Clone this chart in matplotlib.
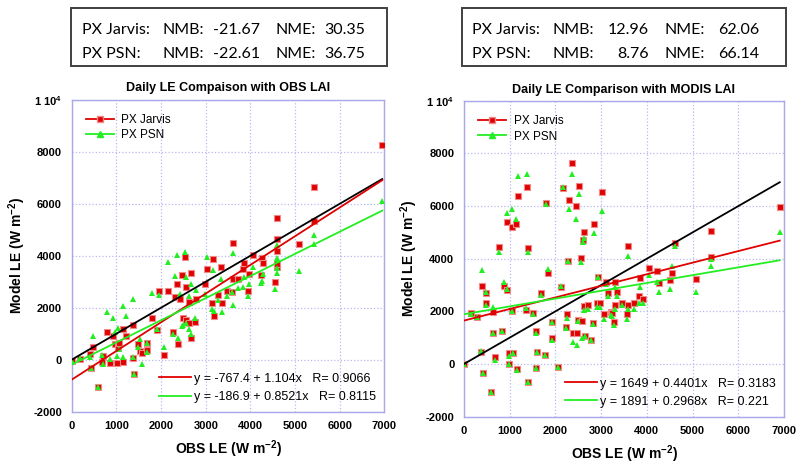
import numpy as np
import matplotlib
matplotlib.use('Agg')
import matplotlib.pyplot as plt
from matplotlib.lines import Line2D
from matplotlib.patches import Rectangle

plt.rcParams['font.family'] = 'Liberation Sans'
plt.rcParams['mathtext.fontset'] = 'custom'
plt.rcParams['mathtext.rm'] = 'Liberation Sans:bold'
plt.rcParams['mathtext.default'] = 'rm'

# ---- data ----
# left panel (OBS LAI): obs LE, PX Jarvis, PX PSN
obs_lai_x = [0, 187, 410, 425, 485, 597, 672, 709, 799, 858, 918, 970, 1007, 1045, 1067,
             1142, 1157, 1216, 1366, 1381, 1403, 1493, 1530, 1567, 1679, 1679, 1791, 1903,
             1955, 2075, 2164, 2276, 2313, 2366, 2388, 2425, 2463, 2500, 2537, 2552, 2552,
             2627, 2634, 2664, 2664, 2761, 2784, 2985, 3022, 3134, 3172, 3187, 3284, 3336,
             3358, 3467, 3579, 3602, 3602, 3727, 3825, 3855, 3937, 3973, 4063, 4235, 4250,
             4273, 4548, 4586, 4586, 4586, 4586, 4600, 5092, 5420, 5420, 6950]
obs_lai_jarvis = [-50, 13, 218, -333, 500, -1038, -77, 150, 1050, -115, 910, 603, -141, 500, 654,
                  1167, -77, 910, 1333, 51, -551, 600, 346, 244, 654, 372, 1590, 1141,
                  2641, 167, 2641, 1077, 2397, 2910, 590, 2321, 3256, 1590, 3962, 2808, 1526,
                  1423, 2231, 3346, 821, 1462, 2321, 2910, 3474, 2167, 3859, 1679, 2487, 3577,
                  2192, 2654, 2620, 4500, 3104, 3104, 3477, 3707, 2654, 3296, 4027, 3258, 3900,
                  3731, 3000, 5438, 4630, 4192, 3554, 3700, 4438, 6650, 5350, 8250]
obs_lai_psn = [-40, 60, 100, -333, 910, -1038, 180, -167, 1846, 30, 1590, 1077, 141, 1205, 400,
               2064, 115, 1679, 2321, 115, -551, 500, 800, -167, 628, 300, 2577, 1200,
               2487, 500, 3744, 987, 3218, 4026, 821, 2513, 1295, 1333, 4154, 3167, 1397,
               1200, 2449, 2900, 1000, 1600, 2700, 2513, 3962, 1936, 3449, 1872, 2300, 3100,
               1846, 2462, 2592, 4115, 2104, 2746, 2785, 3200, 2462, 2900, 3554, 2938, 3027,
               3300, 2719, 4412, 3923, 3862, 3515, 3323, 3423, 4800, 4440, 6100]

# right panel (MODIS LAI): obs LE, PX Jarvis, PX PSN
modis_lai_x = [0, 146, 291, 364, 386, 408, 481, 481, 583, 641, 641, 677, 772, 823, 874, 940,
               1042, 1129, 1187, 1375, 932, 991, 991, 1042, 1063, 1151, 1355, 1406, 1406, 1515,
               1573, 1573, 1602, 1682, 1770, 1784, 1828, 1915, 1915, 2061, 2119, 2170, 2229,
               2243, 2265, 2301, 2352, 2374, 2440, 2462, 2498, 2513, 2557, 2571, 2593, 2629,
               2629, 2644, 2702, 2775, 2811, 2840, 2899, 2921, 2972, 3023, 3066, 3117, 3154,
               3210, 3227, 3276, 3298, 3314, 3336, 3465, 3567, 3588, 3588, 3712, 3829, 3857,
               3916, 4047, 4230, 4265, 4512, 4556, 4620, 5081, 5395, 5395, 6907]
modis_lai_jarvis = [0, 1949, 1797, 443, 2975, -354, 2684, 2329, -1051, 1987, 1165, 278, 4456, 1266,
                    2975, 5405, 5190, 5304, 6380, 6709, 2810, 405, 0, 2025, 405, -203, 2051, 4392,
                    -671, 1924, 1266, -139, 443, 2709, 342, 6127, 3468, 1608, 975, -127, 2937, 6671,
                    1418, 1899, 3924, 6228, 7646, 1190, 6013, 1165, 1671, 6772, 4013, 1633, 4709,
                    5025, 2215, 1063, 2241, 911, 1570, 5304, 2304, 3316, 2304, 6519, 1886, 3100,
                    2684, 1987, 1949, 1608, 3127, 2241, 2747, 2329, 1899, 4481, 2228, 2329, 2582,
                    3278, 2456, 3633, 3532, 3089, 3190, 3443, 4600, 3228, 5068, 4051, 5958]
modis_lai_psn = [0, 1900, 1770, 490, 3570, -354, 2747, 2241, -1051, 2152, 1190, 152, 4266, 1266,
                 3127, 5722, 5873, 5494, 7139, 7203, 2850, 300, 0, 2025, 405, -230, 2110, 4241,
                 -671, 1900, 1190, -139, 443, 2620, 342, 6076, 3595, 1580, 910, -127, 2960, 6734,
                 1350, 1734, 3924, 5873, 7215, 848, 5494, 722, 1640, 6456, 3861, 1000, 4620,
                 4800, 2051, 1050, 2100, 900, 1500, 4962, 2177, 3300, 2177, 5810, 1696, 3038,
                 2600, 1860, 1830, 1480, 2937, 2100, 2600, 2240, 1700, 4101, 2100, 2089, 2300,
                 2937, 2300, 3380, 3127, 2747, 2835, 3722, 4500, 2722, 4000, 3722, 5008]

# linear fits printed on the chart: intercept, slope, R
fit_obs_jarvis = (-767.4, 1.104, 0.9066)
fit_obs_psn = (-186.9, 0.8521, 0.8115)
fit_modis_jarvis = (1649, 0.4401, 0.3183)
fit_modis_psn = (1891, 0.2968, 0.221)

# statistics boxes
nmb_obs = [-21.67, -22.61]
nme_obs = [30.35, 36.75]
nmb_modis = [12.96, 8.76]
nme_modis = [62.06, 66.14]
models = ['PX Jarvis:', 'PX PSN:']

x_ticks = [0, 1000, 2000, 3000, 4000, 5000, 6000, 7000]
y_ticks = [-2000, 0, 2000, 4000, 6000, 8000, 10000]
y_tick_labels = ['-2000', '0', '2000', '4000', '6000', '8000', '1 10$^4$']

RED = '#e00000'
GREEN = '#22ee22'
SPINE = '#a8a8ea'

fig = plt.figure(figsize=(8, 4.67), dpi=100)
ax1 = fig.add_axes([0.0896, 0.1184, 0.391, 0.668])
ax2 = fig.add_axes([0.580, 0.108, 0.400, 0.676])


def draw_panel(ax, x, jar, psn, fit_j, fit_p, title):
    x = np.asarray(x)
    ax.plot(x, jar, 's', ms=4.3, mfc=RED, mec='#f08a8a', mew=0.8, zorder=3)
    ax.plot(x, psn, '^', ms=4.5, mfc=GREEN, mec=GREEN, mew=0, zorder=4)
    xl = np.array([0, x.max()])
    ax.plot(xl, xl, color='black', lw=1.3, zorder=5)
    ax.plot(xl, fit_j[0] + fit_j[1] * xl, color=RED, lw=1.3, zorder=5)
    ax.plot(xl, fit_p[0] + fit_p[1] * xl, color=GREEN, lw=1.3, zorder=5)

    ax.set_xlim(0, 7000)
    ax.set_ylim(-2000, 10000)
    ax.set_xticks(x_ticks)
    ax.set_yticks(y_ticks)
    ax.set_yticklabels(y_tick_labels)
    ax.tick_params(length=0, labelsize=8, pad=7)
    for lab in ax.get_xticklabels() + ax.get_yticklabels():
        lab.set_fontweight('bold')
    ax.grid(True, ls=':', color='#b8b8f0', lw=0.9)
    for sp in ax.spines.values():
        sp.set_color(SPINE)
        sp.set_linewidth(1.0)
    ax.set_title(title, fontsize=9, fontweight='bold', pad=6)
    ax.set_xlabel('OBS LE (W m$^{-2}$)', fontsize=10, fontweight='bold', labelpad=5)
    ax.set_ylabel('Model LE (W m$^{-2}$)', fontsize=10, fontweight='bold', labelpad=4)

    h1 = [Line2D([], [], color=RED, marker='s', ms=4, mec='#f08a8a', lw=1.3),
          Line2D([], [], color=GREEN, marker='^', ms=4.5, lw=1.3)]
    leg1 = ax.legend(h1, ['PX Jarvis', 'PX PSN'], loc='upper left', frameon=False,
                     fontsize=8.5, handlelength=2.4, handletextpad=0.6,
                     labelspacing=0.3, borderaxespad=0.8)
    ax.add_artist(leg1)

    h2 = [Line2D([], [], color=RED, lw=1.3), Line2D([], [], color=GREEN, lw=1.3)]
    labs = [f"y = {fit_j[0]:g} + {fit_j[1]:g}x   R= {fit_j[2]:g}",
            f"y = {fit_p[0]:g} + {fit_p[1]:g}x   R= {fit_p[2]:g}"]
    ax.legend(h2, labs, loc='lower right', frameon=False, fontsize=9,
              handlelength=2.6, handletextpad=0.2, labelspacing=0.5,
              borderaxespad=0.3)


draw_panel(ax1, obs_lai_x, obs_lai_jarvis, obs_lai_psn, fit_obs_jarvis, fit_obs_psn,
           'Daily LE Compaison with OBS LAI')
draw_panel(ax2, modis_lai_x, modis_lai_jarvis, modis_lai_psn, fit_modis_jarvis, fit_modis_psn,
           'Daily LE Comparison with MODIS LAI')

# statistics boxes above the panels
box_font = dict(fontsize=11.5, family='Lato', va='center')
for x0, w, cols, nmb, nme in [(0.0884, 0.395, (0.1025, 0.2025, 0.325, 0.344, 0.456), nmb_obs, nme_obs),
                               (0.577, 0.406, (0.590, 0.691, 0.811, 0.831, 0.949), nmb_modis, nme_modis)]:
    fig.patches.append(Rectangle((x0, 0.8587), w, 0.1245, transform=fig.transFigure,
                                 fill=False, ec='#404040', lw=1.4))
    for i, yy in enumerate([0.9358, 0.8844]):
        fig.text(cols[0], yy, models[i], **box_font)
        fig.text(cols[1], yy, 'NMB:', **box_font)
        fig.text(cols[2], yy, f"{nmb[i]:.2f}", ha='right', **box_font)
        fig.text(cols[3], yy, 'NME:', **box_font)
        fig.text(cols[4], yy, f"{nme[i]:.2f}", ha='right', **box_font)

fig.savefig('out.png', dpi=100)
